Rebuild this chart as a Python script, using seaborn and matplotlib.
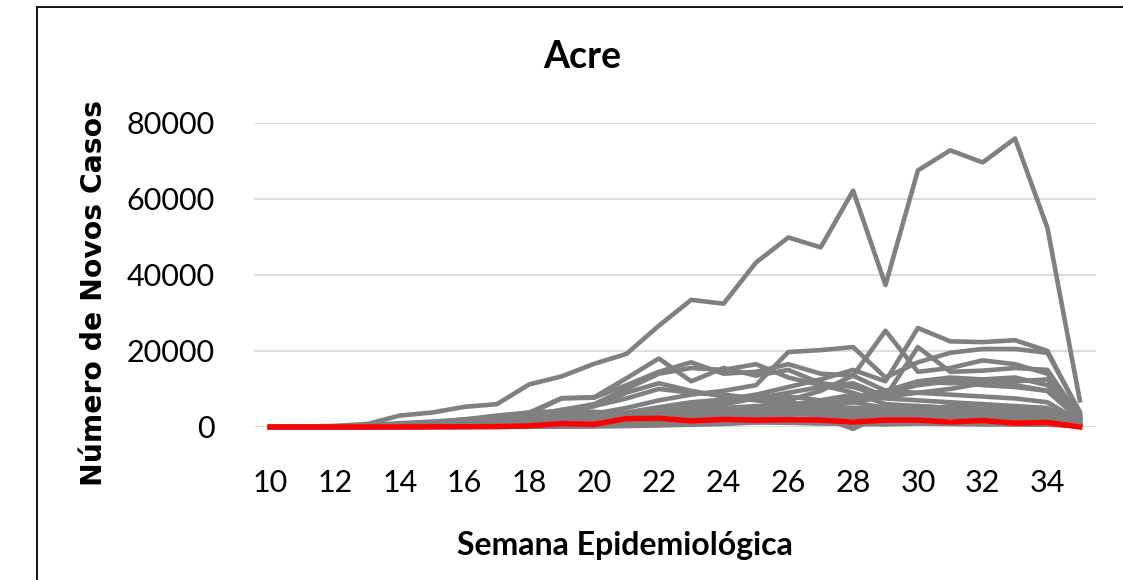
import numpy as np
import pandas as pd
import matplotlib
matplotlib.use("Agg")
import matplotlib.pyplot as plt
from matplotlib.patches import Rectangle
import seaborn as sns

weeks = list(range(10, 36))

sp = [0,100,300,800,3000,3800,5300,6000,11200,13300,16600,19200,26600,33400,32400,43200,49800,47200,62100,37300,67400,72700,69500,75800,52300,7000]
mg = [0,20,60,150,300,500,700,900,1400,2000,2800,3800,5200,6500,7200,8500,10500,12500,15000,12000,26000,22500,22300,22800,20000,3500]
ba = [0,30,80,200,400,700,900,1200,1900,2800,3500,5000,7000,8500,9500,11000,19700,20200,21000,13000,17000,19500,20500,20500,19500,4000]
rj = [0,50,200,500,1000,1400,2000,2600,3800,7600,7800,12800,18000,12000,15500,13500,15000,11500,10500,8000,21000,14500,14800,15500,15000,2500]
ce = [0,40,120,300,700,1000,1500,2200,3500,7500,7700,11000,14500,17000,14000,14500,16500,14000,13500,9500,9000,8500,8000,7500,6500,1500]
pa = [0,5,20,50,150,400,800,1500,2800,4500,6000,10000,14000,15500,15000,16500,13000,11000,9000,6000,5500,5000,4800,4500,4000,1000]
go = [0,10,30,60,100,150,250,400,600,800,1100,1500,2200,3000,4000,5200,7000,9500,13500,25300,14500,15500,17500,16500,14000,3000]
pe = [0,20,60,150,400,700,1100,1800,3000,4500,5500,7500,10000,9000,8500,7500,6500,5500,5000,4500,4000,4200,4000,3800,3500,800]
ma = [0,5,20,60,150,300,600,1000,2000,3500,5500,9000,11500,9500,8000,7000,6000,5000,4500,4000,4500,4200,4000,3800,3500,800]
am = [0,20,80,200,700,1200,2000,3000,3800,4200,4000,3500,3200,3000,2800,3500,3800,3600,3200,3000,3100,3000,3500,3600,3000,700]
sc = [0,20,50,100,150,200,250,300,400,500,600,800,1200,1600,2200,3000,4500,6000,7500,9000,11000,12000,11000,10500,9500,2000]
rs = [0,10,40,80,120,150,200,250,300,400,500,700,1100,1500,2000,3000,4500,5500,6500,8000,9000,10000,11500,12000,12500,2500]
pr = [0,10,30,80,100,150,200,250,300,400,600,900,1300,2000,3000,4000,5500,7000,8000,9500,12000,13000,12500,13000,11000,2500]
df_ = [0,20,60,150,200,250,300,400,500,700,1200,2000,3500,5000,6000,7500,9000,10500,11500,8000,12000,11500,12000,11000,9500,2000]
mt = [0,0,10,30,40,60,80,100,150,200,300,500,800,1500,2500,3500,5500,7000,8500,7500,7000,6500,6000,5000,4500,1000]
es = [0,10,30,60,150,300,500,700,1000,1500,2000,3000,3500,4500,5000,5500,5800,5000,4500,4200,4300,4000,4500,4800,4200,900]
pb = [0,0,5,20,50,100,200,400,700,1200,2000,3200,4500,5500,6500,7500,8000,7000,6500,5000,5500,5000,4500,4000,3500,800]
rn = [0,5,10,30,80,150,250,400,600,900,1400,2200,3000,4000,4500,5000,5500,5000,4500,2500,3500,3000,2500,2200,2000,500]
al = [0,0,5,10,30,80,150,300,600,900,1500,2500,3500,4000,4200,4500,4300,3800,3500,2500,3000,2800,2600,2500,2300,500]
se = [0,0,5,10,20,40,80,150,300,500,800,1200,2000,3000,3500,4200,4500,5000,4800,4000,3800,3500,3200,3000,2800,600]
pi = [0,0,5,10,30,60,100,200,300,500,800,1200,1800,2500,3000,3500,4000,4500,5000,4200,4800,4500,4000,3800,3500,800]
ap = [0,0,5,20,60,150,300,500,700,900,1500,2000,2500,2000,1800,1500,1400,1300,1200,1000,1200,1100,1000,900,800,200]
ro = [0,0,2,5,10,30,60,100,200,400,600,900,1300,1800,2400,2800,3200,3500,3800,3000,4000,3500,3300,3000,2800,600]
rr = [0,0,0,5,20,40,80,150,300,500,800,1200,1500,1800,1400,1200,1100,900,800,700,900,800,700,650,600,150]
to = [0,0,0,0,5,10,20,40,80,150,300,500,800,1100,1400,1800,2000,2300,2600,2000,2500,2600,2400,2300,2100,500]
ms = [0,0,5,10,15,20,30,40,60,100,150,250,400,600,800,1200,1800,2500,-500,3500,4500,5500,6000,5500,5000,1000]
acre = [0,0,5,10,30,50,80,120,300,900,700,2200,2300,1600,2000,1800,1900,1800,1300,1800,1800,1300,1700,1000,1200,0]

others = {"SP": sp, "MG": mg, "BA": ba, "RJ": rj, "CE": ce, "PA": pa, "GO": go, "PE": pe,
          "MA": ma, "AM": am, "SC": sc, "RS": rs, "PR": pr, "DF": df_, "MT": mt, "ES": es,
          "PB": pb, "RN": rn, "AL": al, "SE": se, "PI": pi, "AP": ap, "RO": ro, "RR": rr,
          "TO": to, "MS": ms}

rows = []
for st, vals in others.items():
    for w, v in zip(weeks, vals):
        rows.append((st, w, v))
gray_df = pd.DataFrame(rows, columns=["estado", "semana", "casos"])
acre_df = pd.DataFrame({"semana": weeks, "casos": acre})

W, H = 1123, 580
fig = plt.figure(figsize=(W / 100, H / 100), dpi=100)
fig.patch.set_facecolor("white")
ax = fig.add_axes([254 / W, 1 - 427 / H, (1096 - 254) / W, (427 - 122.5) / H])

sns.lineplot(data=gray_df, x="semana", y="casos", units="estado", estimator=None,
             color="#808080", linewidth=3.3, ax=ax, legend=False)
sns.lineplot(data=acre_df, x="semana", y="casos", color="#ff0000", linewidth=3.9,
             ax=ax, legend=False)
for ln in ax.get_lines():
    ln.set_clip_on(False)
    ln.set_solid_joinstyle("round")

ax.set_xlim(9.5, 35.5)
ax.set_ylim(0, 80000)
ax.set_xticks(list(range(10, 36, 2)))
ax.set_yticks([0, 20000, 40000, 60000, 80000])
ax.set_yticklabels(["0", "20000", "40000", "60000", "80000"])
for s in ax.spines.values():
    s.set_visible(False)
ax.grid(axis="y", color="#d9d9d9", linewidth=1.3)
ax.set_axisbelow(True)
ax.tick_params(axis="both", length=0, labelsize=22, labelcolor="black")
ax.tick_params(axis="y", pad=28)
ax.tick_params(axis="x", pad=30)
for lab in ax.get_xticklabels() + ax.get_yticklabels():
    lab.set_family(["Lato", "DejaVu Sans"])
ax.set_xlabel("")
ax.set_ylabel("")

fig.text(582 / W, 1 - 57 / H, "Acre", ha="center", va="center", fontsize=27,
         fontweight="bold", family=["Lato", "DejaVu Sans"])
fig.text(625 / W, 1 - 545 / H, "Semana Epidemiológica", ha="center", va="center",
         fontsize=23, fontweight="bold", family=["Lato", "DejaVu Sans"])
fig.text(94 / W, 1 - 293 / H, "Número de Novos Casos", ha="center", va="center",
         rotation=90, fontsize=20.3, fontweight="bold", family=["DejaVu Sans"])

fig.add_artist(Rectangle((37 / W, -0.2), 1.5, 1.2 - 7 / H, transform=fig.transFigure,
                         fill=False, edgecolor="black", linewidth=1.3))

fig.savefig("out.png", dpi=100, facecolor="white")
